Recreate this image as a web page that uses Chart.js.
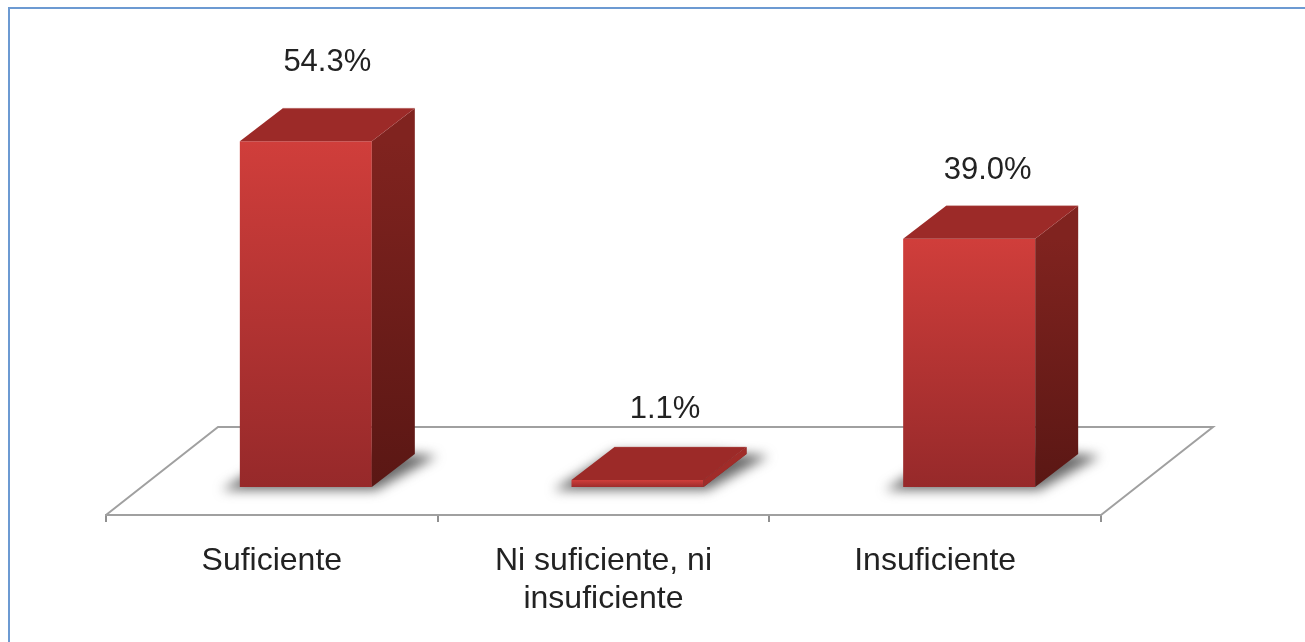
<!DOCTYPE html>
<html>
<head>
<meta charset="utf-8">
<script src="https://cdn.jsdelivr.net/npm/chart.js@4"></script>
<style>
  body { margin: 0; background: #fff; }
  #frame { position: absolute; left: 8px; top: 7px; right: 0; bottom: 0; border-left: 2px solid #6c9ad2; border-top: 2px solid #6c9ad2; }
  canvas { position: absolute; left: 0; top: 0; }
</style>
</head>
<body>
<div id="frame"></div>
<canvas id="chart" width="1305" height="642"></canvas>
<script>
var categories = ["Suficiente", ["Ni suficiente, ni", "insuficiente"], "Insuficiente"];
var values = [54.3, 1.1, 39.0];
var valueLabels = ["54.3%", "1.1%", "39.0%"];

// how far the bars sit back on the floor, and the depth of a bar itself
var shiftX = 34, shiftY = -28;
var depthX = 43, depthY = -33;
var floorX = 112, floorY = -88;
var labelNudge = [[0, 2], [6, 10], [-3, 13]];

function faceGradient(ctx, y0, y1, c0, c1) {
    var g = ctx.createLinearGradient(0, y0, 0, y1);
    g.addColorStop(0, c0);
    g.addColorStop(1, c1);
    return g;
}

function poly(ctx, pts) {
    ctx.beginPath();
    ctx.moveTo(pts[0][0], pts[0][1]);
    for (var i = 1; i < pts.length; ++i) {
        ctx.lineTo(pts[i][0], pts[i][1]);
    }
    ctx.closePath();
}

// floor under the bars, and the soft shadows lying on it
var floorPlugin = {
    id: "floor",
    beforeDatasetsDraw: function (chart) {
        var ctx = chart.ctx, a = chart.chartArea;
        ctx.save();
        ctx.strokeStyle = "#a0a0a0";
        ctx.lineWidth = 2;
        ctx.beginPath();
        ctx.moveTo(a.left, a.bottom);
        ctx.lineTo(a.left + floorX, a.bottom + floorY);
        ctx.lineTo(a.right + floorX, a.bottom + floorY);
        ctx.lineTo(a.right, a.bottom);
        ctx.stroke();

        ctx.translate(shiftX, shiftY);
        ctx.filter = "blur(6px)";
        ctx.fillStyle = "rgba(80,80,80,0.85)";
        chart.getDatasetMeta(0).data.forEach(function (bar) {
            var l = bar.x - bar.width / 2, r = bar.x + bar.width / 2, b = bar.base;
            poly(ctx, [[l - 18, b + 3], [r + 4, b + 3], [r + depthX + 22, b + depthY + 2],
                       [r + 14, b + depthY - 2], [l + depthX, b + depthY - 2]]);
            ctx.fill();
        });
        ctx.restore();
        // the bars are drawn shifted back onto the floor
        ctx.save();
        ctx.translate(shiftX, shiftY);
    },
    afterDatasetsDraw: function (chart) {
        var ctx = chart.ctx;
        chart.getDatasetMeta(0).data.forEach(function (bar) {
            var l = bar.x - bar.width / 2, r = bar.x + bar.width / 2, t = bar.y, b = bar.base;
            var dark = b - t < 20;
            // side face
            ctx.fillStyle = faceGradient(ctx, t, b, "#80231f", "#5a1714");
            poly(ctx, [[r, t], [r + depthX, t + depthY], [r + depthX, b + depthY], [r, b]]);
            ctx.fill();
            if (dark) {
                ctx.fillStyle = "#a02c29";
                ctx.fill();
            }
            // top face
            ctx.fillStyle = "#9c2a28";
            poly(ctx, [[l, t], [l + depthX, t + depthY], [r + depthX, t + depthY], [r, t]]);
            ctx.fill();
            // light rim along the back of the top
            ctx.strokeStyle = "rgba(190,120,115,0.4)";
            ctx.lineWidth = 1;
            ctx.beginPath();
            ctx.moveTo(l + depthX, t + depthY);
            ctx.lineTo(r + depthX, t + depthY);
            ctx.stroke();
        });
        ctx.restore();

        // value labels above the bars
        ctx.save();
        ctx.font = "31px 'Liberation Sans'";
        ctx.fillStyle = "#222222";
        ctx.textAlign = "center";
        ctx.textBaseline = "middle";
        chart.getDatasetMeta(0).data.forEach(function (bar, i) {
            ctx.fillText(valueLabels[i],
                bar.x + shiftX + depthX / 2 + labelNudge[i][0],
                bar.y + shiftY + depthY - 48 + labelNudge[i][1]);
        });
        ctx.restore();
    }
};

new Chart(document.getElementById("chart"), {
    type: "bar",
    plugins: [floorPlugin],
    data: {
        labels: categories,
        datasets: [{
            data: values,
            clip: false,
            categoryPercentage: 1,
            barPercentage: 0.398,
            borderWidth: 0,
            backgroundColor: function (c) {
                var y = c.chart.scales.y;
                if (!y || c.raw === undefined) return "#c0352f";
                var y0 = y.getPixelForValue(c.raw), y1 = y.getPixelForValue(0) + 1;
                if (!isFinite(y0) || !isFinite(y1)) return "#c0352f";
                return faceGradient(c.chart.ctx, y0, y1, "#d03e3b", "#96292a");
            }
        }]
    },
    options: {
        responsive: false,
        animation: false,
        layout: { padding: { left: 106, right: 204, top: 133, bottom: 0 } },
        plugins: { legend: { display: false }, tooltip: { enabled: false } },
        scales: {
            x: {
                afterFit: function (s) { s.height = 127; },
                border: { color: "#a0a0a0", width: 2 },
                grid: { drawOnChartArea: false, color: "#909090", lineWidth: 2, tickLength: 7 },
                ticks: {
                    color: "#222222",
                    padding: 20,
                    maxRotation: 0,
                    font: { family: "Liberation Sans", size: 32, lineHeight: 1.19 }
                }
            },
            y: { display: false, min: 0, max: 60 }
        }
    }
});
</script>
</body>
</html>
